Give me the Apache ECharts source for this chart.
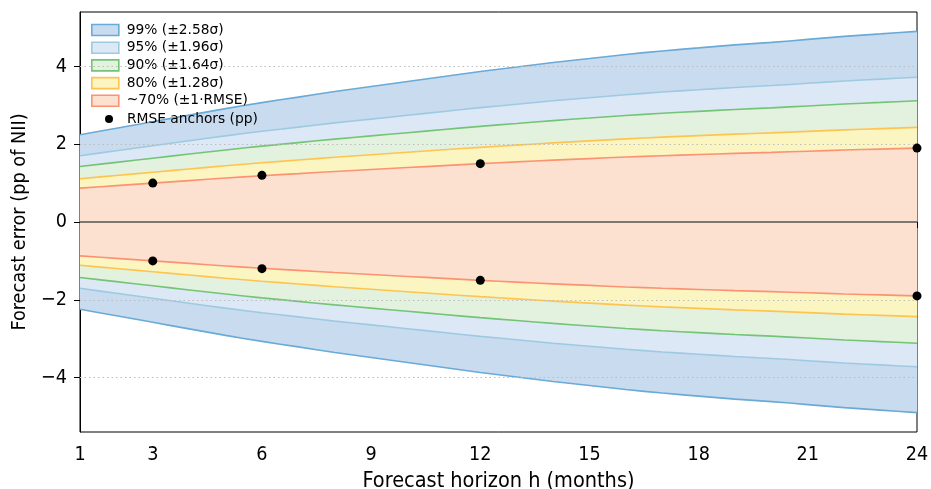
<!DOCTYPE html>
<html>
<head>
<meta charset="utf-8">
<script src="https://cdn.jsdelivr.net/npm/echarts@6/dist/echarts.min.js"></script>
<style>
  html, body { margin: 0; padding: 0; background: #fff; }
  #chart { width: 931px; height: 489px; }
</style>
</head>
<body>
<div id="chart"></div>
<script>
var chartDom = document.getElementById('chart');
var myChart = echarts.init(chartDom, null, { renderer: 'canvas' });

const horizons = [1, 2, 3, 4, 5, 6, 7, 8, 9, 10, 11, 12, 13, 14, 15, 16, 17, 18, 19, 20, 21, 22, 23, 24];
const rmse = [0.87, 0.935, 1.00, 1.065, 1.13, 1.19, 1.245, 1.30, 1.35, 1.40, 1.45, 1.50,
              1.545, 1.59, 1.63, 1.67, 1.705, 1.735, 1.765, 1.79, 1.82, 1.85, 1.875, 1.90];

// RMSE anchors (pp)
const anchorH = [3, 6, 12, 24];
const anchorRmse = [1.0, 1.2, 1.5, 1.9];

// bands, widest first
const bandNames = ['99% (±2.58σ)', '95% (±1.96σ)', '90% (±1.64σ)', '80% (±1.28σ)', '~70% (±1·RMSE)'];
const bandZ = [2.58, 1.96, 1.64, 1.28, 1.0];

const xTicks = [1, 3, 6, 9, 12, 15, 18, 21, 24];
const yTicks = [-4, -2, 0, 2, 4];

const lineColors = ['#6aaad6', '#9ecae1', '#74c476', '#fec44f', '#fc9272'];
const fillColors = ['#c9dbee', '#dce8f6', '#e3f1df', '#fbf5c2', '#fce0d0'];

const tickFont = 'DejaVu Sans Condensed';

let series = [];
bandNames.forEach(function (name, i) {
    [1, -1].forEach(function (sign) {
        series.push({
            name: name,
            type: 'line',
            data: horizons.map(function (h, k) { return [h, sign * bandZ[i] * rmse[k]]; }),
            smooth: 0.3,
            symbol: 'none',
            lineStyle: { color: lineColors[i], width: 1.6 },
            itemStyle: { color: fillColors[i] },
            areaStyle: { color: fillColors[i], opacity: 1, origin: 0 },
            z: 2 + i,
            silent: true
        });
    });
});

series.push({
    name: 'RMSE anchors (pp)',
    type: 'scatter',
    data: anchorH.map(function (h, k) { return [h, anchorRmse[k]]; })
        .concat(anchorH.map(function (h, k) { return [h, -anchorRmse[k]]; })),
    symbol: 'circle',
    symbolSize: 9,
    itemStyle: { color: '#000000', opacity: 1 },
    z: 12,
    silent: true,
    // zero line and dotted grid drawn over the bands
    markLine: {
        symbol: 'none',
        silent: true,
        z: 11,
        animation: false,
        label: { show: false },
        data: yTicks.map(function (v) {
            return {
                yAxis: v,
                lineStyle: v === 0
                    ? { color: '#555555', width: 1.6, type: 'solid' }
                    : { color: '#bdbdbd', width: 1, type: [1.5, 3] }
            };
        })
    }
});

var option = {
    backgroundColor: '#ffffff',
    animation: false,
    grid: {
        left: 80, right: 14, top: 12, bottom: 57,
        outerBoundsMode: 'none',
        containLabel: false,
        show: true, borderColor: '#000000', borderWidth: 1, backgroundColor: 'transparent'
    },
    legend: [{
        left: 86, top: 18,
        orient: 'vertical',
        padding: 5,
        itemWidth: 27, itemHeight: 11, itemGap: 3.7,
        selectedMode: false,
        textStyle: { fontFamily: 'DejaVu Sans', fontSize: 13.8, lineHeight: 14, color: '#000', padding: [0, 0, 0, 3] },
        data: bandNames.map(function (n, i) {
            return {
                name: n, icon: 'rect',
                itemStyle: { color: fillColors[i], borderColor: lineColors[i], borderWidth: 1.6 }
            };
        })
    }, {
        left: 100, top: 107,
        orient: 'vertical',
        padding: 5,
        itemWidth: 8, itemHeight: 8,
        selectedMode: false,
        textStyle: { fontFamily: 'DejaVu Sans', fontSize: 13.8, lineHeight: 14, color: '#000', padding: [0, 0, 0, 9] },
        data: [{ name: 'RMSE anchors (pp)', icon: 'circle', itemStyle: { color: '#000' } }]
    }],
    xAxis: {
        type: 'value',
        min: 1, max: 24,
        name: 'Forecast horizon h (months)',
        nameLocation: 'middle',
        nameGap: 38,
        nameTextStyle: { fontFamily: tickFont, fontSize: 21.5, color: '#000' },
        axisLine: { show: true, lineStyle: { color: '#000', width: 1 } },
        axisTick: { show: true, inside: false, length: 6, customValues: xTicks, lineStyle: { color: '#000' } },
        axisLabel: { customValues: xTicks, margin: 13, fontFamily: tickFont, fontSize: 19.6, color: '#000' },
        splitLine: { show: false }
    },
    yAxis: {
        type: 'value',
        min: -5.4, max: 5.4,
        name: 'Forecast error (pp of NII)',
        nameLocation: 'middle',
        nameGap: 49,
        nameTextStyle: { fontFamily: tickFont, fontSize: 19.7, color: '#000' },
        axisLine: { show: true, lineStyle: { color: '#000', width: 1 } },
        axisTick: { show: true, inside: false, length: 6, customValues: yTicks, lineStyle: { color: '#000' } },
        axisLabel: {
            customValues: yTicks, margin: 13, fontFamily: tickFont, fontSize: 19.6, color: '#000',
            formatter: function (v) { return v < 0 ? '\u2212' + Math.abs(v) : String(v); }
        },
        splitLine: { show: false }
    },
    series: series
};

option && myChart.setOption(option);
</script>
</body>
</html>
